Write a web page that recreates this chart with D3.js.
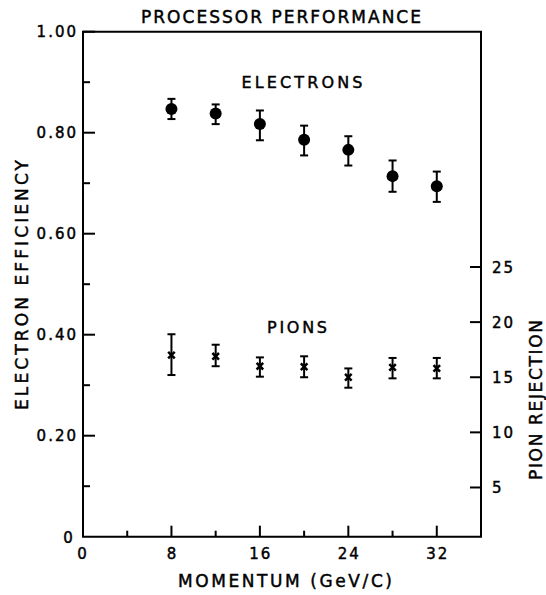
<!DOCTYPE html>
<html><head><meta charset="utf-8">
<script src="https://cdn.jsdelivr.net/npm/d3@7"></script>
<style>
html,body{margin:0;padding:0;background:#fff;}
svg text{font-family:"DejaVu Sans",sans-serif;fill:#000;stroke:#000;stroke-width:0.45px;}
</style></head>
<body><svg id="c" width="546" height="595"></svg>
<script>
// Data
const momentum = [8, 12, 16, 20, 24, 28, 32];
const electronEff = [0.847, 0.838, 0.817, 0.786, 0.766, 0.714, 0.694];
const electronLo  = [0.827, 0.817, 0.785, 0.755, 0.735, 0.683, 0.663];
const electronHi  = [0.867, 0.856, 0.844, 0.814, 0.793, 0.745, 0.723];
const pionRej = [17.0, 16.9, 16.0, 15.95, 15.0, 15.9, 15.8];
const pionLo  = [15.2, 16.0, 15.05, 15.0, 14.05, 14.9, 14.9];
const pionHi  = [18.9, 17.95, 16.8, 16.9, 15.8, 16.75, 16.75];
const xTickLabels = ["0", "8", "16", "24", "32"];
const xMajorTicks = [8, 16, 24, 32];
const xMinorTicks = [4, 12, 20, 28];
const leftTickValues = [0.2, 0.4, 0.6, 0.8, 1.0];
const leftTickLabels = ["0.20", "0.40", "0.60", "0.80", "1.00"];
const leftMinorTicks = [0.1, 0.3, 0.5, 0.7, 0.9];
const rightTickValues = [5, 10, 15, 20, 25];

const svg = d3.select("#c");
const m = {left: 83, right: 65, top: 31.7, bottom: 58.3};
const W = 546, H = 595;
const x = d3.scaleLinear().domain([0, 36]).range([m.left, W - m.right]);
const yL = d3.scaleLinear().domain([0, 1]).range([H - m.bottom, m.top]);
const yR = d3.scaleLinear().domain([0, 25]).range([542.6, 267]);

const g = svg.append("g");
const sw = 2;
// Frame
g.append("path")
  .attr("d", `M${x(0)},${yL(1)}H${x(36)}V${yL(0)}H${x(0)}Z`)
  .attr("fill", "none").attr("stroke", "#000").attr("stroke-width", sw);

// x ticks (inward)
g.selectAll(".xM").data(xMajorTicks).join("line")
  .attr("x1", d => x(d)).attr("x2", d => x(d))
  .attr("y1", yL(0)).attr("y2", yL(0) - 11)
  .attr("stroke", "#000").attr("stroke-width", sw);
g.selectAll(".xm").data(xMinorTicks).join("line")
  .attr("x1", d => x(d)).attr("x2", d => x(d))
  .attr("y1", yL(0)).attr("y2", yL(0) - 6)
  .attr("stroke", "#000").attr("stroke-width", sw);
g.selectAll(".xl").data(xTickLabels).join("text")
  .attr("x", d => x(+d)).attr("y", yL(0) + 22)
  .attr("text-anchor", "middle").attr("font-size", 15).attr("letter-spacing", 2)
  .attr("dx", (d, i) => i === 0 ? 0 : 1)
  .text(d => d);

// left ticks
g.selectAll(".lM").data(leftTickValues).join("line")
  .attr("x1", x(0)).attr("x2", x(0) + 12)
  .attr("y1", d => yL(d)).attr("y2", d => yL(d))
  .attr("stroke", "#000").attr("stroke-width", sw);
g.selectAll(".lm").data(leftMinorTicks).join("line")
  .attr("x1", x(0)).attr("x2", x(0) + 7)
  .attr("y1", d => yL(d)).attr("y2", d => yL(d))
  .attr("stroke", "#000").attr("stroke-width", sw);
g.selectAll(".ll").data(leftTickLabels).join("text")
  .attr("x", x(0) - 5).attr("y", (d, i) => yL(leftTickValues[i]) + 5.5)
  .attr("text-anchor", "end").attr("font-size", 15).attr("letter-spacing", 2)
  .text(d => d);
g.append("text").attr("x", 68).attr("y", yL(0) + 6)
  .attr("text-anchor", "middle").attr("font-size", 15).text("0");

// right ticks
g.selectAll(".rM").data(rightTickValues).join("line")
  .attr("x1", x(36)).attr("x2", x(36) - 11)
  .attr("y1", d => yR(d)).attr("y2", d => yR(d))
  .attr("stroke", "#000").attr("stroke-width", sw);
g.selectAll(".rl").data(rightTickValues).join("text")
  .attr("x", x(36) + 11).attr("y", d => yR(d) + 5.5)
  .attr("text-anchor", "start").attr("font-size", 15).attr("letter-spacing", 2)
  .text(d => d);

// titles
function label(txt, tx, ty, rot, size, len) {
  svg.append("text")
    .attr("transform", `translate(${tx},${ty}) rotate(${rot})`)
    .attr("text-anchor", "middle").attr("font-size", size)
    .attr("textLength", len).attr("lengthAdjust", "spacing")
    .text(txt);
}
label("PROCESSOR  PERFORMANCE", 281, 23, 0, 17, 280);
label("MOMENTUM (GeV/C)", 285, 587, 0, 17, 214);
label("ELECTRON  EFFICIENCY", 28, 285, -90, 17, 250);
label("PION  REJECTION", 542, 400, -90, 17, 160);
label("ELECTRONS", 302, 88, 0, 16, 121);
label("PIONS", 297, 333, 0, 16, 60);

// error bars helper
function errBars(cls, lo, hi, ys) {
  const eb = g.selectAll("." + cls).data(momentum).join("g");
  eb.append("line").attr("x1", d => x(d)).attr("x2", d => x(d))
    .attr("y1", (d, i) => ys(lo[i])).attr("y2", (d, i) => ys(hi[i]))
    .attr("stroke", "#000").attr("stroke-width", 2);
  eb.append("line").attr("x1", d => x(d) - 4).attr("x2", d => x(d) + 4)
    .attr("y1", (d, i) => ys(lo[i])).attr("y2", (d, i) => ys(lo[i]))
    .attr("stroke", "#000").attr("stroke-width", 2);
  eb.append("line").attr("x1", d => x(d) - 4).attr("x2", d => x(d) + 4)
    .attr("y1", (d, i) => ys(hi[i])).attr("y2", (d, i) => ys(hi[i]))
    .attr("stroke", "#000").attr("stroke-width", 2);
}
errBars("eE", electronLo, electronHi, yL);
errBars("eP", pionLo, pionHi, yR);

g.selectAll(".ec").data(momentum).join("circle")
  .attr("cx", d => x(d)).attr("cy", (d, i) => yL(electronEff[i]))
  .attr("r", 6).attr("fill", "#000");
const xs = d3.symbol().type(d3.symbolX).size(30);
g.selectAll(".pc").data(momentum).join("path")
  .attr("d", xs)
  .attr("transform", (d, i) => `translate(${x(d)},${yR(pionRej[i])})`)
  .attr("fill", "none").attr("stroke", "#000").attr("stroke-width", 2.5);
</script></body></html>
